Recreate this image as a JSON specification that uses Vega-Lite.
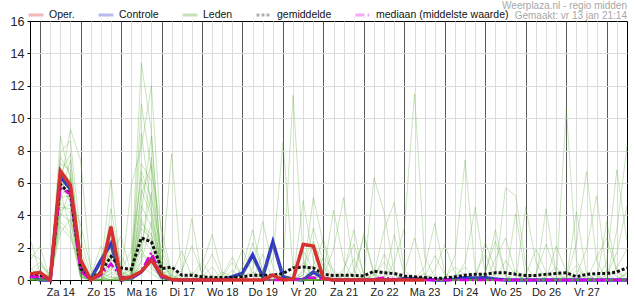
{
"$schema":"https://vega.github.io/schema/vega-lite/v6.json",
"width":635,"height":300,
"autosize":{"type":"fit","contains":"padding"},
"padding":{"left":10,"right":1,"top":0,"bottom":3},
"background":"white",
"title":{"text":["Weerplaza.nl - regio midden","Gemaakt: vr 13 jan 21:14"],"anchor":"end","frame":"group","fontSize":10,"font":"Liberation Sans","fontWeight":"normal","color":"#a8a8a8","lineHeight":10.5,"offset":-6},
"config":{"view":{"stroke":"#000","strokeWidth":1},"font":"Liberation Sans"},
"datasets":{
"det":[
{"s":"o","h":18,"v":0.38},{"s":"o","h":24,"v":0.46},{"s":"o","h":30,"v":0},{"s":"o","h":36,"v":6.74},{"s":"o","h":42,"v":5.85},{"s":"o","h":48,"v":1.24},{"s":"o","h":54,"v":0},{"s":"o","h":60,"v":0.42},{"s":"o","h":66,"v":3.3},{"s":"o","h":72,"v":0.05},
{"s":"o","h":78,"v":0.2},{"s":"o","h":84,"v":0.52},{"s":"o","h":90,"v":1.24},{"s":"o","h":96,"v":0.3},{"s":"o","h":102,"v":0.02},{"s":"o","h":108,"v":0},{"s":"o","h":114,"v":0},{"s":"o","h":120,"v":0},{"s":"o","h":126,"v":0},{"s":"o","h":132,"v":0},
{"s":"o","h":138,"v":0},{"s":"o","h":144,"v":0},{"s":"o","h":150,"v":0},{"s":"o","h":156,"v":0},{"s":"o","h":162,"v":0.3},{"s":"o","h":168,"v":0},{"s":"o","h":174,"v":0.05},{"s":"o","h":180,"v":2.2},{"s":"o","h":186,"v":2.1},{"s":"o","h":192,"v":0.1},
{"s":"o","h":198,"v":0},{"s":"o","h":204,"v":0},{"s":"o","h":210,"v":0},{"s":"o","h":216,"v":0},{"s":"o","h":222,"v":0},{"s":"o","h":228,"v":0},{"s":"o","h":234,"v":0},{"s":"o","h":240,"v":0},{"s":"o","h":246,"v":0},{"s":"o","h":252,"v":0},
{"s":"c","h":18,"v":0.26},{"s":"c","h":24,"v":0},{"s":"c","h":30,"v":0},{"s":"c","h":36,"v":6.4},{"s":"c","h":42,"v":5.6},{"s":"c","h":48,"v":0.8},{"s":"c","h":54,"v":0.05},{"s":"c","h":60,"v":1.2},{"s":"c","h":66,"v":2.25},{"s":"c","h":72,"v":0},
{"s":"c","h":78,"v":0.1},{"s":"c","h":84,"v":0.5},{"s":"c","h":90,"v":1.3},{"s":"c","h":96,"v":0.2},{"s":"c","h":102,"v":0.02},{"s":"c","h":108,"v":0},{"s":"c","h":114,"v":0},{"s":"c","h":120,"v":0},{"s":"c","h":126,"v":0},{"s":"c","h":132,"v":0},
{"s":"c","h":138,"v":0.2},{"s":"c","h":144,"v":0.42},{"s":"c","h":150,"v":1.55},{"s":"c","h":156,"v":0.2},{"s":"c","h":162,"v":2.35},{"s":"c","h":168,"v":0.2},{"s":"c","h":174,"v":0.05},{"s":"c","h":180,"v":0},{"s":"c","h":186,"v":0.5},{"s":"c","h":192,"v":0.1},
{"s":"c","h":198,"v":0},{"s":"c","h":204,"v":0},{"s":"c","h":210,"v":0},{"s":"c","h":216,"v":0},{"s":"c","h":222,"v":0},{"s":"c","h":228,"v":0},{"s":"c","h":234,"v":0},{"s":"c","h":240,"v":0.1},{"s":"c","h":246,"v":0.1},{"s":"c","h":252,"v":0.05},
{"s":"c","h":258,"v":0},{"s":"c","h":264,"v":0},{"s":"c","h":270,"v":0.05},{"s":"c","h":276,"v":0.15},{"s":"c","h":282,"v":0.12},{"s":"c","h":288,"v":0.15},{"s":"c","h":294,"v":0.05},{"s":"c","h":300,"v":0},{"s":"c","h":306,"v":0},{"s":"c","h":312,"v":0},
{"s":"c","h":318,"v":0},{"s":"c","h":324,"v":0},{"s":"c","h":330,"v":0},{"s":"c","h":336,"v":0},{"s":"c","h":342,"v":0},{"s":"c","h":348,"v":0},{"s":"c","h":354,"v":0},{"s":"c","h":360,"v":0},{"s":"c","h":366,"v":0},{"s":"c","h":372,"v":0},
{"s":"g","h":18,"v":0.3},{"s":"g","h":24,"v":0.3},{"s":"g","h":30,"v":0.05},{"s":"g","h":36,"v":5.9},{"s":"g","h":42,"v":5.3},{"s":"g","h":48,"v":0.7},{"s":"g","h":54,"v":0.05},{"s":"g","h":60,"v":0.5},{"s":"g","h":66,"v":1.45},{"s":"g","h":72,"v":0.75},
{"s":"g","h":78,"v":0.65},{"s":"g","h":84,"v":2.6},{"s":"g","h":90,"v":2.35},{"s":"g","h":96,"v":0.7},{"s":"g","h":102,"v":0.8},{"s":"g","h":108,"v":0.3},{"s":"g","h":114,"v":0.3},{"s":"g","h":120,"v":0.2},{"s":"g","h":126,"v":0.15},{"s":"g","h":132,"v":0.15},
{"s":"g","h":138,"v":0.15},{"s":"g","h":144,"v":0.2},{"s":"g","h":150,"v":0.3},{"s":"g","h":156,"v":0.3},{"s":"g","h":162,"v":0.3},{"s":"g","h":168,"v":0.4},{"s":"g","h":174,"v":0.75},{"s":"g","h":180,"v":0.8},{"s":"g","h":186,"v":0.75},{"s":"g","h":192,"v":0.35},
{"s":"g","h":198,"v":0.28},{"s":"g","h":204,"v":0.3},{"s":"g","h":210,"v":0.28},{"s":"g","h":216,"v":0.25},{"s":"g","h":222,"v":0.55},{"s":"g","h":228,"v":0.45},{"s":"g","h":234,"v":0.4},{"s":"g","h":240,"v":0.25},{"s":"g","h":246,"v":0.2},{"s":"g","h":252,"v":0.15},
{"s":"g","h":258,"v":0.1},{"s":"g","h":264,"v":0.12},{"s":"g","h":270,"v":0.2},{"s":"g","h":276,"v":0.3},{"s":"g","h":282,"v":0.35},{"s":"g","h":288,"v":0.35},{"s":"g","h":294,"v":0.45},{"s":"g","h":300,"v":0.45},{"s":"g","h":306,"v":0.35},{"s":"g","h":312,"v":0.28},
{"s":"g","h":318,"v":0.28},{"s":"g","h":324,"v":0.35},{"s":"g","h":330,"v":0.4},{"s":"g","h":336,"v":0.45},{"s":"g","h":342,"v":0.2},{"s":"g","h":348,"v":0.35},{"s":"g","h":354,"v":0.4},{"s":"g","h":360,"v":0.4},{"s":"g","h":366,"v":0.5},{"s":"g","h":372,"v":0.75},
{"s":"d","h":18,"v":0.2},{"s":"d","h":24,"v":0.2},{"s":"d","h":30,"v":0},{"s":"d","h":36,"v":5.7},{"s":"d","h":42,"v":5.3},{"s":"d","h":48,"v":0.55},{"s":"d","h":54,"v":0},{"s":"d","h":60,"v":0.3},{"s":"d","h":66,"v":1.0},{"s":"d","h":72,"v":0.2},
{"s":"d","h":78,"v":0.1},{"s":"d","h":84,"v":0.55},{"s":"d","h":90,"v":1.7},{"s":"d","h":96,"v":0.2},{"s":"d","h":102,"v":0.05},{"s":"d","h":108,"v":0},{"s":"d","h":114,"v":0},{"s":"d","h":120,"v":0},{"s":"d","h":126,"v":0},{"s":"d","h":132,"v":0},
{"s":"d","h":138,"v":0},{"s":"d","h":144,"v":0},{"s":"d","h":150,"v":0},{"s":"d","h":156,"v":0},{"s":"d","h":162,"v":0},{"s":"d","h":168,"v":0},{"s":"d","h":174,"v":0},{"s":"d","h":180,"v":0.1},{"s":"d","h":186,"v":0.15},{"s":"d","h":192,"v":0.05},
{"s":"d","h":198,"v":0},{"s":"d","h":204,"v":0},{"s":"d","h":210,"v":0},{"s":"d","h":216,"v":0},{"s":"d","h":222,"v":0.05},{"s":"d","h":228,"v":0.15},{"s":"d","h":234,"v":0.05},{"s":"d","h":240,"v":0},{"s":"d","h":246,"v":0},{"s":"d","h":252,"v":0},
{"s":"d","h":258,"v":0},{"s":"d","h":264,"v":0},{"s":"d","h":270,"v":0},{"s":"d","h":276,"v":0},{"s":"d","h":282,"v":0},{"s":"d","h":288,"v":0},{"s":"d","h":294,"v":0},{"s":"d","h":300,"v":0},{"s":"d","h":306,"v":0},{"s":"d","h":312,"v":0},
{"s":"d","h":318,"v":0},{"s":"d","h":324,"v":0},{"s":"d","h":330,"v":0},{"s":"d","h":336,"v":0},{"s":"d","h":342,"v":0},{"s":"d","h":348,"v":0},{"s":"d","h":354,"v":0},{"s":"d","h":360,"v":0},{"s":"d","h":366,"v":0},{"s":"d","h":372,"v":0}
],
"ens":[
{"m":1,"h":18,"v":0.3},{"m":1,"h":24,"v":0.5},{"m":1,"h":30,"v":0.1},{"m":1,"h":36,"v":6.8},{"m":1,"h":42,"v":5.5},{"m":1,"h":48,"v":0.8},{"m":1,"h":54,"v":0},{"m":1,"h":60,"v":0.4},{"m":1,"h":66,"v":2.1},{"m":1,"h":72,"v":0.3},
{"m":1,"h":78,"v":0.2},{"m":1,"h":84,"v":3.5},{"m":1,"h":90,"v":2.8},{"m":1,"h":96,"v":0.4},{"m":1,"h":102,"v":0.6},{"m":1,"h":108,"v":0.1},{"m":1,"h":114,"v":0},{"m":1,"h":120,"v":0},{"m":1,"h":126,"v":0.2},{"m":1,"h":132,"v":0},
{"m":1,"h":138,"v":0},{"m":1,"h":144,"v":0.3},{"m":1,"h":150,"v":1.2},{"m":1,"h":156,"v":0.2},{"m":1,"h":162,"v":0},{"m":1,"h":168,"v":0},{"m":1,"h":174,"v":0.4},{"m":1,"h":180,"v":1.8},{"m":1,"h":186,"v":0.6},{"m":1,"h":192,"v":0.1},
{"m":1,"h":198,"v":0},{"m":1,"h":204,"v":0},{"m":1,"h":210,"v":0.5},{"m":1,"h":216,"v":2.7},{"m":1,"h":222,"v":0.3},{"m":1,"h":228,"v":0},{"m":1,"h":234,"v":0},{"m":1,"h":240,"v":0.2},{"m":1,"h":246,"v":0},{"m":1,"h":252,"v":0},
{"m":1,"h":258,"v":0},{"m":1,"h":264,"v":0},{"m":1,"h":270,"v":0.3},{"m":1,"h":276,"v":0.8},{"m":1,"h":282,"v":0},{"m":1,"h":288,"v":0},{"m":1,"h":294,"v":0},{"m":1,"h":300,"v":1.2},{"m":1,"h":306,"v":0.3},{"m":1,"h":312,"v":0},
{"m":1,"h":318,"v":0},{"m":1,"h":324,"v":0},{"m":1,"h":330,"v":0.2},{"m":1,"h":336,"v":0},{"m":1,"h":342,"v":0},{"m":1,"h":348,"v":0},{"m":1,"h":354,"v":1.4},{"m":1,"h":360,"v":2.6},{"m":1,"h":366,"v":0.5},{"m":1,"h":372,"v":0.2},
{"m":2,"h":18,"v":0.1},{"m":2,"h":24,"v":0.2},{"m":2,"h":30,"v":0},{"m":2,"h":36,"v":5.2},{"m":2,"h":42,"v":7.4},{"m":2,"h":48,"v":1.5},{"m":2,"h":54,"v":0.1},{"m":2,"h":60,"v":0},{"m":2,"h":66,"v":0.9},{"m":2,"h":72,"v":0.6},
{"m":2,"h":78,"v":1.8},{"m":2,"h":84,"v":6.3},{"m":2,"h":90,"v":4.2},{"m":2,"h":96,"v":0.8},{"m":2,"h":102,"v":0.2},{"m":2,"h":108,"v":0},{"m":2,"h":114,"v":0.3},{"m":2,"h":120,"v":1.1},{"m":2,"h":126,"v":0.2},{"m":2,"h":132,"v":0},
{"m":2,"h":138,"v":0},{"m":2,"h":144,"v":0},{"m":2,"h":150,"v":0},{"m":2,"h":156,"v":0.5},{"m":2,"h":162,"v":2.1},{"m":2,"h":168,"v":0.3},{"m":2,"h":174,"v":0},{"m":2,"h":180,"v":0},{"m":2,"h":186,"v":0.9},{"m":2,"h":192,"v":2.5},
{"m":2,"h":198,"v":0.4},{"m":2,"h":204,"v":0},{"m":2,"h":210,"v":0},{"m":2,"h":216,"v":0},{"m":2,"h":222,"v":0},{"m":2,"h":228,"v":1.6},{"m":2,"h":234,"v":0.3},{"m":2,"h":240,"v":0},{"m":2,"h":246,"v":0},{"m":2,"h":252,"v":0},
{"m":2,"h":258,"v":0.6},{"m":2,"h":264,"v":2.2},{"m":2,"h":270,"v":0.4},{"m":2,"h":276,"v":0},{"m":2,"h":282,"v":0},{"m":2,"h":288,"v":0},{"m":2,"h":294,"v":0},{"m":2,"h":300,"v":0},{"m":2,"h":306,"v":0},{"m":2,"h":312,"v":0.3},
{"m":2,"h":318,"v":1.9},{"m":2,"h":324,"v":0.5},{"m":2,"h":330,"v":0},{"m":2,"h":336,"v":0},{"m":2,"h":342,"v":0},{"m":2,"h":348,"v":0.4},{"m":2,"h":354,"v":0},{"m":2,"h":360,"v":0},{"m":2,"h":366,"v":0},{"m":2,"h":372,"v":0},
{"m":3,"h":18,"v":0.6},{"m":3,"h":24,"v":1.1},{"m":3,"h":30,"v":0.2},{"m":3,"h":36,"v":4.1},{"m":3,"h":42,"v":3.6},{"m":3,"h":48,"v":0.4},{"m":3,"h":54,"v":0},{"m":3,"h":60,"v":1.2},{"m":3,"h":66,"v":3.4},{"m":3,"h":72,"v":0.2},
{"m":3,"h":78,"v":0},{"m":3,"h":84,"v":1.2},{"m":3,"h":90,"v":7.6},{"m":3,"h":96,"v":1.3},{"m":3,"h":102,"v":0.1},{"m":3,"h":108,"v":0},{"m":3,"h":114,"v":0},{"m":3,"h":120,"v":0},{"m":3,"h":126,"v":0},{"m":3,"h":132,"v":0.3},
{"m":3,"h":138,"v":1.4},{"m":3,"h":144,"v":0.2},{"m":3,"h":150,"v":0},{"m":3,"h":156,"v":0},{"m":3,"h":162,"v":0},{"m":3,"h":168,"v":0},{"m":3,"h":174,"v":0},{"m":3,"h":180,"v":0.5},{"m":3,"h":186,"v":3.2},{"m":3,"h":192,"v":1.1},
{"m":3,"h":198,"v":0},{"m":3,"h":204,"v":0},{"m":3,"h":210,"v":0},{"m":3,"h":216,"v":0},{"m":3,"h":222,"v":0.4},{"m":3,"h":228,"v":3.1},{"m":3,"h":234,"v":4.8},{"m":3,"h":240,"v":0.6},{"m":3,"h":246,"v":0},{"m":3,"h":252,"v":0},
{"m":3,"h":258,"v":0},{"m":3,"h":264,"v":0},{"m":3,"h":270,"v":0},{"m":3,"h":276,"v":0},{"m":3,"h":282,"v":0},{"m":3,"h":288,"v":0.5},{"m":3,"h":294,"v":2.4},{"m":3,"h":300,"v":0.3},{"m":3,"h":306,"v":0},{"m":3,"h":312,"v":0},
{"m":3,"h":318,"v":0},{"m":3,"h":324,"v":0.2},{"m":3,"h":330,"v":0.8},{"m":3,"h":336,"v":0},{"m":3,"h":342,"v":0},{"m":3,"h":348,"v":0},{"m":3,"h":354,"v":0},{"m":3,"h":360,"v":0.3},{"m":3,"h":366,"v":1.7},{"m":3,"h":372,"v":4.6},
{"m":4,"h":18,"v":0},{"m":4,"h":24,"v":0},{"m":4,"h":30,"v":0},{"m":4,"h":36,"v":7.9},{"m":4,"h":42,"v":8.6},{"m":4,"h":48,"v":2.6},{"m":4,"h":54,"v":0.3},{"m":4,"h":60,"v":0},{"m":4,"h":66,"v":0.2},{"m":4,"h":72,"v":0},
{"m":4,"h":78,"v":0.4},{"m":4,"h":84,"v":13.4},{"m":4,"h":90,"v":9.2},{"m":4,"h":96,"v":0.5},{"m":4,"h":102,"v":0},{"m":4,"h":108,"v":0},{"m":4,"h":114,"v":0},{"m":4,"h":120,"v":0.4},{"m":4,"h":126,"v":1.6},{"m":4,"h":132,"v":0.2},
{"m":4,"h":138,"v":0},{"m":4,"h":144,"v":0},{"m":4,"h":150,"v":0},{"m":4,"h":156,"v":0},{"m":4,"h":162,"v":0},{"m":4,"h":168,"v":0.6},{"m":4,"h":174,"v":11.4},{"m":4,"h":180,"v":1.3},{"m":4,"h":186,"v":0},{"m":4,"h":192,"v":0},
{"m":4,"h":198,"v":0},{"m":4,"h":204,"v":0.7},{"m":4,"h":210,"v":2.2},{"m":4,"h":216,"v":0.4},{"m":4,"h":222,"v":0},{"m":4,"h":228,"v":0},{"m":4,"h":234,"v":0},{"m":4,"h":240,"v":0},{"m":4,"h":246,"v":0},{"m":4,"h":252,"v":0},
{"m":4,"h":258,"v":0},{"m":4,"h":264,"v":0},{"m":4,"h":270,"v":0},{"m":4,"h":276,"v":1.1},{"m":4,"h":282,"v":4.5},{"m":4,"h":288,"v":0.3},{"m":4,"h":294,"v":0},{"m":4,"h":300,"v":0},{"m":4,"h":306,"v":0},{"m":4,"h":312,"v":0},
{"m":4,"h":318,"v":0},{"m":4,"h":324,"v":0},{"m":4,"h":330,"v":0},{"m":4,"h":336,"v":0},{"m":4,"h":342,"v":0.6},{"m":4,"h":348,"v":0.2},{"m":4,"h":354,"v":0},{"m":4,"h":360,"v":0},{"m":4,"h":366,"v":0},{"m":4,"h":372,"v":0},
{"m":5,"h":18,"v":2.6},{"m":5,"h":24,"v":0.4},{"m":5,"h":30,"v":0},{"m":5,"h":36,"v":6.1},{"m":5,"h":42,"v":4.9},{"m":5,"h":48,"v":0.2},{"m":5,"h":54,"v":0},{"m":5,"h":60,"v":0.3},{"m":5,"h":66,"v":0.6},{"m":5,"h":72,"v":1.5},
{"m":5,"h":78,"v":0.3},{"m":5,"h":84,"v":0.8},{"m":5,"h":90,"v":0.4},{"m":5,"h":96,"v":0},{"m":5,"h":102,"v":0},{"m":5,"h":108,"v":0.6},{"m":5,"h":114,"v":2.1},{"m":5,"h":120,"v":0.4},{"m":5,"h":126,"v":0},{"m":5,"h":132,"v":0},
{"m":5,"h":138,"v":0},{"m":5,"h":144,"v":0},{"m":5,"h":150,"v":0.7},{"m":5,"h":156,"v":3.6},{"m":5,"h":162,"v":0.8},{"m":5,"h":168,"v":0},{"m":5,"h":174,"v":0},{"m":5,"h":180,"v":0},{"m":5,"h":186,"v":0},{"m":5,"h":192,"v":0.3},
{"m":5,"h":198,"v":1.9},{"m":5,"h":204,"v":5.1},{"m":5,"h":210,"v":0.6},{"m":5,"h":216,"v":0},{"m":5,"h":222,"v":0},{"m":5,"h":228,"v":0},{"m":5,"h":234,"v":0},{"m":5,"h":240,"v":0},{"m":5,"h":246,"v":0},{"m":5,"h":252,"v":0},
{"m":5,"h":258,"v":0},{"m":5,"h":264,"v":0},{"m":5,"h":270,"v":0},{"m":5,"h":276,"v":0},{"m":5,"h":282,"v":0},{"m":5,"h":288,"v":0},{"m":5,"h":294,"v":0.4},{"m":5,"h":300,"v":5.7},{"m":5,"h":306,"v":5.2},{"m":5,"h":312,"v":0.9},
{"m":5,"h":318,"v":0},{"m":5,"h":324,"v":0},{"m":5,"h":330,"v":0},{"m":5,"h":336,"v":0},{"m":5,"h":342,"v":0},{"m":5,"h":348,"v":0},{"m":5,"h":354,"v":0},{"m":5,"h":360,"v":0.6},{"m":5,"h":366,"v":0.2},{"m":5,"h":372,"v":0},
{"m":6,"h":18,"v":0.2},{"m":6,"h":24,"v":0.1},{"m":6,"h":30,"v":0},{"m":6,"h":36,"v":8.9},{"m":6,"h":42,"v":6.2},{"m":6,"h":48,"v":0.5},{"m":6,"h":54,"v":0},{"m":6,"h":60,"v":0},{"m":6,"h":66,"v":4.4},{"m":6,"h":72,"v":0.8},
{"m":6,"h":78,"v":0},{"m":6,"h":84,"v":2.1},{"m":6,"h":90,"v":5.4},{"m":6,"h":96,"v":0.2},{"m":6,"h":102,"v":0},{"m":6,"h":108,"v":0},{"m":6,"h":114,"v":0},{"m":6,"h":120,"v":0},{"m":6,"h":126,"v":0},{"m":6,"h":132,"v":0},
{"m":6,"h":138,"v":0.3},{"m":6,"h":144,"v":1.9},{"m":6,"h":150,"v":0.4},{"m":6,"h":156,"v":0},{"m":6,"h":162,"v":0},{"m":6,"h":168,"v":0},{"m":6,"h":174,"v":0},{"m":6,"h":180,"v":0},{"m":6,"h":186,"v":0.5},{"m":6,"h":192,"v":0.2},
{"m":6,"h":198,"v":0},{"m":6,"h":204,"v":0},{"m":6,"h":210,"v":0},{"m":6,"h":216,"v":0.3},{"m":6,"h":222,"v":6.3},{"m":6,"h":228,"v":4.2},{"m":6,"h":234,"v":0.5},{"m":6,"h":240,"v":0},{"m":6,"h":246,"v":0},{"m":6,"h":252,"v":0},
{"m":6,"h":258,"v":0},{"m":6,"h":264,"v":0},{"m":6,"h":270,"v":0},{"m":6,"h":276,"v":0},{"m":6,"h":282,"v":0},{"m":6,"h":288,"v":0},{"m":6,"h":294,"v":0},{"m":6,"h":300,"v":0},{"m":6,"h":306,"v":0.6},{"m":6,"h":312,"v":0.2},
{"m":6,"h":318,"v":0},{"m":6,"h":324,"v":0},{"m":6,"h":330,"v":0},{"m":6,"h":336,"v":10.6},{"m":6,"h":342,"v":1.2},{"m":6,"h":348,"v":0},{"m":6,"h":354,"v":0},{"m":6,"h":360,"v":0},{"m":6,"h":366,"v":0},{"m":6,"h":372,"v":0.4},
{"m":7,"h":18,"v":0.4},{"m":7,"h":24,"v":0.6},{"m":7,"h":30,"v":0.1},{"m":7,"h":36,"v":3.3},{"m":7,"h":42,"v":2.6},{"m":7,"h":48,"v":0.9},{"m":7,"h":54,"v":0.2},{"m":7,"h":60,"v":2.1},{"m":7,"h":66,"v":1.1},{"m":7,"h":72,"v":0},
{"m":7,"h":78,"v":0},{"m":7,"h":84,"v":10.9},{"m":7,"h":90,"v":6.8},{"m":7,"h":96,"v":3.1},{"m":7,"h":102,"v":0.4},{"m":7,"h":108,"v":0},{"m":7,"h":114,"v":0},{"m":7,"h":120,"v":0},{"m":7,"h":126,"v":0},{"m":7,"h":132,"v":0.5},
{"m":7,"h":138,"v":0.2},{"m":7,"h":144,"v":0},{"m":7,"h":150,"v":0},{"m":7,"h":156,"v":0},{"m":7,"h":162,"v":0.3},{"m":7,"h":168,"v":0},{"m":7,"h":174,"v":0},{"m":7,"h":180,"v":0},{"m":7,"h":186,"v":0},{"m":7,"h":192,"v":0},
{"m":7,"h":198,"v":0},{"m":7,"h":204,"v":0.3},{"m":7,"h":210,"v":0},{"m":7,"h":216,"v":0},{"m":7,"h":222,"v":0},{"m":7,"h":228,"v":0},{"m":7,"h":234,"v":1.1},{"m":7,"h":240,"v":3.2},{"m":7,"h":246,"v":11.5},{"m":7,"h":252,"v":1.4},
{"m":7,"h":258,"v":0.2},{"m":7,"h":264,"v":0},{"m":7,"h":270,"v":0},{"m":7,"h":276,"v":0},{"m":7,"h":282,"v":0},{"m":7,"h":288,"v":0},{"m":7,"h":294,"v":0},{"m":7,"h":300,"v":0},{"m":7,"h":306,"v":0},{"m":7,"h":312,"v":0},
{"m":7,"h":318,"v":0.4},{"m":7,"h":324,"v":2.2},{"m":7,"h":330,"v":0.5},{"m":7,"h":336,"v":0},{"m":7,"h":342,"v":0},{"m":7,"h":348,"v":0},{"m":7,"h":354,"v":0},{"m":7,"h":360,"v":0},{"m":7,"h":366,"v":3.1},{"m":7,"h":372,"v":8.3},
{"m":8,"h":18,"v":0},{"m":8,"h":24,"v":0.3},{"m":8,"h":30,"v":0.3},{"m":8,"h":36,"v":5.8},{"m":8,"h":42,"v":9.3},{"m":8,"h":48,"v":7.4},{"m":8,"h":54,"v":0.6},{"m":8,"h":60,"v":0},{"m":8,"h":66,"v":0},{"m":8,"h":72,"v":0},
{"m":8,"h":78,"v":0.2},{"m":8,"h":84,"v":4.6},{"m":8,"h":90,"v":3.3},{"m":8,"h":96,"v":0.6},{"m":8,"h":102,"v":7.8},{"m":8,"h":108,"v":0.3},{"m":8,"h":114,"v":0},{"m":8,"h":120,"v":0},{"m":8,"h":126,"v":0},{"m":8,"h":132,"v":0},
{"m":8,"h":138,"v":0},{"m":8,"h":144,"v":0},{"m":8,"h":150,"v":0},{"m":8,"h":156,"v":0},{"m":8,"h":162,"v":0},{"m":8,"h":168,"v":0},{"m":8,"h":174,"v":0.2},{"m":8,"h":180,"v":1.1},{"m":8,"h":186,"v":0},{"m":8,"h":192,"v":0},
{"m":8,"h":198,"v":0},{"m":8,"h":204,"v":0},{"m":8,"h":210,"v":0},{"m":8,"h":216,"v":0},{"m":8,"h":222,"v":0},{"m":8,"h":228,"v":0.5},{"m":8,"h":234,"v":0},{"m":8,"h":240,"v":0},{"m":8,"h":246,"v":0},{"m":8,"h":252,"v":0.8},
{"m":8,"h":258,"v":3.5},{"m":8,"h":264,"v":0.4},{"m":8,"h":270,"v":0},{"m":8,"h":276,"v":0},{"m":8,"h":282,"v":0},{"m":8,"h":288,"v":0},{"m":8,"h":294,"v":0},{"m":8,"h":300,"v":0},{"m":8,"h":306,"v":0},{"m":8,"h":312,"v":0},
{"m":8,"h":318,"v":0},{"m":8,"h":324,"v":0},{"m":8,"h":330,"v":0},{"m":8,"h":336,"v":0},{"m":8,"h":342,"v":2.3},{"m":8,"h":348,"v":6.7},{"m":8,"h":354,"v":1.2},{"m":8,"h":360,"v":0},{"m":8,"h":366,"v":0},{"m":8,"h":372,"v":0},
{"m":9,"h":18,"v":1.2},{"m":9,"h":24,"v":2.1},{"m":9,"h":30,"v":0},{"m":9,"h":36,"v":4.8},{"m":9,"h":42,"v":4.1},{"m":9,"h":48,"v":0.3},{"m":9,"h":54,"v":0},{"m":9,"h":60,"v":0.6},{"m":9,"h":66,"v":6.2},{"m":9,"h":72,"v":0.4},
{"m":9,"h":78,"v":0},{"m":9,"h":84,"v":1.6},{"m":9,"h":90,"v":0.9},{"m":9,"h":96,"v":0},{"m":9,"h":102,"v":0},{"m":9,"h":108,"v":0},{"m":9,"h":114,"v":0.5},{"m":9,"h":120,"v":0},{"m":9,"h":126,"v":0},{"m":9,"h":132,"v":0},
{"m":9,"h":138,"v":0},{"m":9,"h":144,"v":0},{"m":9,"h":150,"v":2.3},{"m":9,"h":156,"v":0.6},{"m":9,"h":162,"v":0},{"m":9,"h":168,"v":0},{"m":9,"h":174,"v":0},{"m":9,"h":180,"v":0},{"m":9,"h":186,"v":0},{"m":9,"h":192,"v":0.4},
{"m":9,"h":198,"v":4.3},{"m":9,"h":204,"v":1.2},{"m":9,"h":210,"v":0},{"m":9,"h":216,"v":0},{"m":9,"h":222,"v":0},{"m":9,"h":228,"v":0},{"m":9,"h":234,"v":0},{"m":9,"h":240,"v":0},{"m":9,"h":246,"v":0},{"m":9,"h":252,"v":0},
{"m":9,"h":258,"v":0},{"m":9,"h":264,"v":0},{"m":9,"h":270,"v":1.5},{"m":9,"h":276,"v":7.4},{"m":9,"h":282,"v":0.6},{"m":9,"h":288,"v":0},{"m":9,"h":294,"v":0},{"m":9,"h":300,"v":0},{"m":9,"h":306,"v":0},{"m":9,"h":312,"v":0},
{"m":9,"h":318,"v":0},{"m":9,"h":324,"v":0},{"m":9,"h":330,"v":0},{"m":9,"h":336,"v":0},{"m":9,"h":342,"v":0.3},{"m":9,"h":348,"v":1.9},{"m":9,"h":354,"v":5.2},{"m":9,"h":360,"v":0.4},{"m":9,"h":366,"v":0},{"m":9,"h":372,"v":0},
{"m":10,"h":18,"v":0},{"m":10,"h":24,"v":0},{"m":10,"h":30,"v":0},{"m":10,"h":36,"v":6.4},{"m":10,"h":42,"v":5.9},{"m":10,"h":48,"v":1.1},{"m":10,"h":54,"v":0},{"m":10,"h":60,"v":0},{"m":10,"h":66,"v":0.4},{"m":10,"h":72,"v":0},
{"m":10,"h":78,"v":5.8},{"m":10,"h":84,"v":8.2},{"m":10,"h":90,"v":12.0},{"m":10,"h":96,"v":2.4},{"m":10,"h":102,"v":0.2},{"m":10,"h":108,"v":0},{"m":10,"h":114,"v":0},{"m":10,"h":120,"v":0},{"m":10,"h":126,"v":0},{"m":10,"h":132,"v":0},
{"m":10,"h":138,"v":0},{"m":10,"h":144,"v":0},{"m":10,"h":150,"v":0},{"m":10,"h":156,"v":0.4},{"m":10,"h":162,"v":1.3},{"m":10,"h":168,"v":8.5},{"m":10,"h":174,"v":0.6},{"m":10,"h":180,"v":0},{"m":10,"h":186,"v":0},{"m":10,"h":192,"v":0},
{"m":10,"h":198,"v":0},{"m":10,"h":204,"v":0},{"m":10,"h":210,"v":0},{"m":10,"h":216,"v":0},{"m":10,"h":222,"v":0},{"m":10,"h":228,"v":0},{"m":10,"h":234,"v":0},{"m":10,"h":240,"v":0.5},{"m":10,"h":246,"v":2.6},{"m":10,"h":252,"v":0.3},
{"m":10,"h":258,"v":0},{"m":10,"h":264,"v":0},{"m":10,"h":270,"v":0},{"m":10,"h":276,"v":0},{"m":10,"h":282,"v":0},{"m":10,"h":288,"v":0.4},{"m":10,"h":294,"v":3.1},{"m":10,"h":300,"v":0.2},{"m":10,"h":306,"v":0},{"m":10,"h":312,"v":0},
{"m":10,"h":318,"v":0},{"m":10,"h":324,"v":0},{"m":10,"h":330,"v":0},{"m":10,"h":336,"v":0},{"m":10,"h":342,"v":0},{"m":10,"h":348,"v":0},{"m":10,"h":354,"v":0},{"m":10,"h":360,"v":1.1},{"m":10,"h":366,"v":6.8},{"m":10,"h":372,"v":2.4},
{"m":11,"h":18,"v":0.8},{"m":11,"h":24,"v":0.2},{"m":11,"h":30,"v":0},{"m":11,"h":36,"v":2.9},{"m":11,"h":42,"v":3.8},{"m":11,"h":48,"v":0.6},{"m":11,"h":54,"v":0.1},{"m":11,"h":60,"v":0.2},{"m":11,"h":66,"v":0},{"m":11,"h":72,"v":0.3},
{"m":11,"h":78,"v":0.6},{"m":11,"h":84,"v":2.7},{"m":11,"h":90,"v":1.8},{"m":11,"h":96,"v":0.3},{"m":11,"h":102,"v":0},{"m":11,"h":108,"v":0.4},{"m":11,"h":114,"v":3.8},{"m":11,"h":120,"v":0.2},{"m":11,"h":126,"v":0},{"m":11,"h":132,"v":0},
{"m":11,"h":138,"v":0},{"m":11,"h":144,"v":0},{"m":11,"h":150,"v":0},{"m":11,"h":156,"v":0},{"m":11,"h":162,"v":0},{"m":11,"h":168,"v":0},{"m":11,"h":174,"v":0},{"m":11,"h":180,"v":0.3},{"m":11,"h":186,"v":5.1},{"m":11,"h":192,"v":2.2},
{"m":11,"h":198,"v":0},{"m":11,"h":204,"v":0},{"m":11,"h":210,"v":0},{"m":11,"h":216,"v":0},{"m":11,"h":222,"v":0},{"m":11,"h":228,"v":0},{"m":11,"h":234,"v":0},{"m":11,"h":240,"v":0},{"m":11,"h":246,"v":0},{"m":11,"h":252,"v":0},
{"m":11,"h":258,"v":0},{"m":11,"h":264,"v":0.2},{"m":11,"h":270,"v":0.8},{"m":11,"h":276,"v":0.3},{"m":11,"h":282,"v":0},{"m":11,"h":288,"v":0},{"m":11,"h":294,"v":0},{"m":11,"h":300,"v":0},{"m":11,"h":306,"v":4.1},{"m":11,"h":312,"v":0.2},
{"m":11,"h":318,"v":0},{"m":11,"h":324,"v":0},{"m":11,"h":330,"v":0},{"m":11,"h":336,"v":0},{"m":11,"h":342,"v":0},{"m":11,"h":348,"v":0},{"m":11,"h":354,"v":0.3},{"m":11,"h":360,"v":0},{"m":11,"h":366,"v":0},{"m":11,"h":372,"v":0.5},
{"m":12,"h":18,"v":0.3},{"m":12,"h":24,"v":0.4},{"m":12,"h":30,"v":0},{"m":12,"h":36,"v":7.2},{"m":12,"h":42,"v":6.8},{"m":12,"h":48,"v":0.2},{"m":12,"h":54,"v":0},{"m":12,"h":60,"v":0},{"m":12,"h":66,"v":1.6},{"m":12,"h":72,"v":2.7},
{"m":12,"h":78,"v":0.4},{"m":12,"h":84,"v":9.1},{"m":12,"h":90,"v":4.4},{"m":12,"h":96,"v":0.5},{"m":12,"h":102,"v":0},{"m":12,"h":108,"v":0},{"m":12,"h":114,"v":0},{"m":12,"h":120,"v":0},{"m":12,"h":126,"v":0},{"m":12,"h":132,"v":0},
{"m":12,"h":138,"v":0},{"m":12,"h":144,"v":0.8},{"m":12,"h":150,"v":3.1},{"m":12,"h":156,"v":0.5},{"m":12,"h":162,"v":0},{"m":12,"h":168,"v":0},{"m":12,"h":174,"v":0},{"m":12,"h":180,"v":0},{"m":12,"h":186,"v":0},{"m":12,"h":192,"v":0},
{"m":12,"h":198,"v":0},{"m":12,"h":204,"v":0},{"m":12,"h":210,"v":0},{"m":12,"h":216,"v":2.9},{"m":12,"h":222,"v":0.4},{"m":12,"h":228,"v":0},{"m":12,"h":234,"v":0},{"m":12,"h":240,"v":0},{"m":12,"h":246,"v":0},{"m":12,"h":252,"v":0},
{"m":12,"h":258,"v":0},{"m":12,"h":264,"v":0},{"m":12,"h":270,"v":0},{"m":12,"h":276,"v":0},{"m":12,"h":282,"v":0},{"m":12,"h":288,"v":2.3},{"m":12,"h":294,"v":0.6},{"m":12,"h":300,"v":0},{"m":12,"h":306,"v":0},{"m":12,"h":312,"v":0},
{"m":12,"h":318,"v":0},{"m":12,"h":324,"v":4.4},{"m":12,"h":330,"v":0.4},{"m":12,"h":336,"v":0},{"m":12,"h":342,"v":0},{"m":12,"h":348,"v":0},{"m":12,"h":354,"v":0},{"m":12,"h":360,"v":0},{"m":12,"h":366,"v":0.8},{"m":12,"h":372,"v":1.9},
{"m":13,"h":18,"v":0},{"m":13,"h":24,"v":0},{"m":13,"h":30,"v":0},{"m":13,"h":36,"v":5.1},{"m":13,"h":42,"v":5.2},{"m":13,"h":48,"v":3.4},{"m":13,"h":54,"v":0.8},{"m":13,"h":60,"v":0},{"m":13,"h":66,"v":0},{"m":13,"h":72,"v":0},
{"m":13,"h":78,"v":0},{"m":13,"h":84,"v":5.3},{"m":13,"h":90,"v":7.1},{"m":13,"h":96,"v":0.2},{"m":13,"h":102,"v":0},{"m":13,"h":108,"v":0},{"m":13,"h":114,"v":0},{"m":13,"h":120,"v":0.9},{"m":13,"h":126,"v":2.8},{"m":13,"h":132,"v":0.4},
{"m":13,"h":138,"v":0},{"m":13,"h":144,"v":0},{"m":13,"h":150,"v":0},{"m":13,"h":156,"v":0},{"m":13,"h":162,"v":0},{"m":13,"h":168,"v":0},{"m":13,"h":174,"v":0},{"m":13,"h":180,"v":0.6},{"m":13,"h":186,"v":0},{"m":13,"h":192,"v":0},
{"m":13,"h":198,"v":0},{"m":13,"h":204,"v":0},{"m":13,"h":210,"v":1.3},{"m":13,"h":216,"v":0},{"m":13,"h":222,"v":0},{"m":13,"h":228,"v":0},{"m":13,"h":234,"v":0},{"m":13,"h":240,"v":0},{"m":13,"h":246,"v":0},{"m":13,"h":252,"v":0},
{"m":13,"h":258,"v":0},{"m":13,"h":264,"v":0},{"m":13,"h":270,"v":0},{"m":13,"h":276,"v":0},{"m":13,"h":282,"v":0},{"m":13,"h":288,"v":0},{"m":13,"h":294,"v":0},{"m":13,"h":300,"v":0},{"m":13,"h":306,"v":0},{"m":13,"h":312,"v":4.5},
{"m":13,"h":318,"v":1.1},{"m":13,"h":324,"v":0},{"m":13,"h":330,"v":0},{"m":13,"h":336,"v":0},{"m":13,"h":342,"v":0},{"m":13,"h":348,"v":0},{"m":13,"h":354,"v":0},{"m":13,"h":360,"v":0},{"m":13,"h":366,"v":0},{"m":13,"h":372,"v":0},
{"m":14,"h":18,"v":0.5},{"m":14,"h":24,"v":0.2},{"m":14,"h":30,"v":0},{"m":14,"h":36,"v":4.5},{"m":14,"h":42,"v":4.4},{"m":14,"h":48,"v":0.4},{"m":14,"h":54,"v":0},{"m":14,"h":60,"v":0.9},{"m":14,"h":66,"v":2.6},{"m":14,"h":72,"v":0},
{"m":14,"h":78,"v":0},{"m":14,"h":84,"v":3.8},{"m":14,"h":90,"v":2.2},{"m":14,"h":96,"v":0.2},{"m":14,"h":102,"v":0.3},{"m":14,"h":108,"v":1.8},{"m":14,"h":114,"v":0.2},{"m":14,"h":120,"v":0},{"m":14,"h":126,"v":0},{"m":14,"h":132,"v":0},
{"m":14,"h":138,"v":0},{"m":14,"h":144,"v":0},{"m":14,"h":150,"v":0},{"m":14,"h":156,"v":0},{"m":14,"h":162,"v":0},{"m":14,"h":168,"v":0},{"m":14,"h":174,"v":0},{"m":14,"h":180,"v":4.9},{"m":14,"h":186,"v":1.2},{"m":14,"h":192,"v":0},
{"m":14,"h":198,"v":0},{"m":14,"h":204,"v":0},{"m":14,"h":210,"v":0},{"m":14,"h":216,"v":0},{"m":14,"h":222,"v":0},{"m":14,"h":228,"v":0},{"m":14,"h":234,"v":0},{"m":14,"h":240,"v":0},{"m":14,"h":246,"v":0},{"m":14,"h":252,"v":0},
{"m":14,"h":258,"v":0},{"m":14,"h":264,"v":0},{"m":14,"h":270,"v":0},{"m":14,"h":276,"v":0},{"m":14,"h":282,"v":0.4},{"m":14,"h":288,"v":1.6},{"m":14,"h":294,"v":0},{"m":14,"h":300,"v":0},{"m":14,"h":306,"v":0},{"m":14,"h":312,"v":0},
{"m":14,"h":318,"v":0},{"m":14,"h":324,"v":0},{"m":14,"h":330,"v":0},{"m":14,"h":336,"v":0},{"m":14,"h":342,"v":0},{"m":14,"h":348,"v":0},{"m":14,"h":354,"v":0},{"m":14,"h":360,"v":0},{"m":14,"h":366,"v":0},{"m":14,"h":372,"v":0},
{"m":15,"h":18,"v":0.2},{"m":15,"h":24,"v":0.9},{"m":15,"h":30,"v":0.4},{"m":15,"h":36,"v":6.6},{"m":15,"h":42,"v":7.8},{"m":15,"h":48,"v":0.9},{"m":15,"h":54,"v":0},{"m":15,"h":60,"v":0.2},{"m":15,"h":66,"v":0},{"m":15,"h":72,"v":0.1},
{"m":15,"h":78,"v":0.3},{"m":15,"h":84,"v":6.7},{"m":15,"h":90,"v":5.0},{"m":15,"h":96,"v":1.8},{"m":15,"h":102,"v":0},{"m":15,"h":108,"v":0},{"m":15,"h":114,"v":0},{"m":15,"h":120,"v":0},{"m":15,"h":126,"v":0},{"m":15,"h":132,"v":0},
{"m":15,"h":138,"v":0.6},{"m":15,"h":144,"v":0},{"m":15,"h":150,"v":0},{"m":15,"h":156,"v":0},{"m":15,"h":162,"v":0},{"m":15,"h":168,"v":0},{"m":15,"h":174,"v":0},{"m":15,"h":180,"v":0},{"m":15,"h":186,"v":0},{"m":15,"h":192,"v":1.4},
{"m":15,"h":198,"v":0.6},{"m":15,"h":204,"v":0},{"m":15,"h":210,"v":0},{"m":15,"h":216,"v":0},{"m":15,"h":222,"v":0},{"m":15,"h":228,"v":0},{"m":15,"h":234,"v":2.8},{"m":15,"h":240,"v":0.3},{"m":15,"h":246,"v":0},{"m":15,"h":252,"v":0},
{"m":15,"h":258,"v":0},{"m":15,"h":264,"v":0},{"m":15,"h":270,"v":0},{"m":15,"h":276,"v":0},{"m":15,"h":282,"v":0},{"m":15,"h":288,"v":0},{"m":15,"h":294,"v":0},{"m":15,"h":300,"v":0},{"m":15,"h":306,"v":0},{"m":15,"h":312,"v":0},
{"m":15,"h":318,"v":0},{"m":15,"h":324,"v":0},{"m":15,"h":330,"v":0},{"m":15,"h":336,"v":0},{"m":15,"h":342,"v":0},{"m":15,"h":348,"v":0},{"m":15,"h":354,"v":0},{"m":15,"h":360,"v":3.6},{"m":15,"h":366,"v":0.5},{"m":15,"h":372,"v":0},
{"m":16,"h":18,"v":0},{"m":16,"h":24,"v":0},{"m":16,"h":30,"v":0},{"m":16,"h":36,"v":5.5},{"m":16,"h":42,"v":3.1},{"m":16,"h":48,"v":0.2},{"m":16,"h":54,"v":0},{"m":16,"h":60,"v":0},{"m":16,"h":66,"v":1.3},{"m":16,"h":72,"v":0.6},
{"m":16,"h":78,"v":0},{"m":16,"h":84,"v":0.6},{"m":16,"h":90,"v":1.4},{"m":16,"h":96,"v":0.6},{"m":16,"h":102,"v":0.1},{"m":16,"h":108,"v":0},{"m":16,"h":114,"v":0},{"m":16,"h":120,"v":0},{"m":16,"h":126,"v":0},{"m":16,"h":132,"v":0},
{"m":16,"h":138,"v":0},{"m":16,"h":144,"v":0},{"m":16,"h":150,"v":0},{"m":16,"h":156,"v":1.6},{"m":16,"h":162,"v":0},{"m":16,"h":168,"v":0},{"m":16,"h":174,"v":0},{"m":16,"h":180,"v":0},{"m":16,"h":186,"v":0},{"m":16,"h":192,"v":0},
{"m":16,"h":198,"v":0},{"m":16,"h":204,"v":0},{"m":16,"h":210,"v":0},{"m":16,"h":216,"v":0},{"m":16,"h":222,"v":0.3},{"m":16,"h":228,"v":1.1},{"m":16,"h":234,"v":0},{"m":16,"h":240,"v":0},{"m":16,"h":246,"v":0},{"m":16,"h":252,"v":0},
{"m":16,"h":258,"v":0},{"m":16,"h":264,"v":0},{"m":16,"h":270,"v":0},{"m":16,"h":276,"v":0},{"m":16,"h":282,"v":0},{"m":16,"h":288,"v":0},{"m":16,"h":294,"v":0},{"m":16,"h":300,"v":0},{"m":16,"h":306,"v":0},{"m":16,"h":312,"v":0},
{"m":16,"h":318,"v":0},{"m":16,"h":324,"v":0},{"m":16,"h":330,"v":0},{"m":16,"h":336,"v":0.2},{"m":16,"h":342,"v":0.9},{"m":16,"h":348,"v":0},{"m":16,"h":354,"v":0},{"m":16,"h":360,"v":0},{"m":16,"h":366,"v":0},{"m":16,"h":372,"v":0},
{"m":17,"h":18,"v":1.6},{"m":17,"h":24,"v":1.3},{"m":17,"h":30,"v":0},{"m":17,"h":36,"v":3.9},{"m":17,"h":42,"v":5.6},{"m":17,"h":48,"v":0.7},{"m":17,"h":54,"v":0},{"m":17,"h":60,"v":0.4},{"m":17,"h":66,"v":0.2},{"m":17,"h":72,"v":0},
{"m":17,"h":78,"v":0},{"m":17,"h":84,"v":4.1},{"m":17,"h":90,"v":8.9},{"m":17,"h":96,"v":0.6},{"m":17,"h":102,"v":0},{"m":17,"h":108,"v":0},{"m":17,"h":114,"v":0},{"m":17,"h":120,"v":0},{"m":17,"h":126,"v":0.3},{"m":17,"h":132,"v":0},
{"m":17,"h":138,"v":0},{"m":17,"h":144,"v":0},{"m":17,"h":150,"v":0},{"m":17,"h":156,"v":0},{"m":17,"h":162,"v":0},{"m":17,"h":168,"v":0},{"m":17,"h":174,"v":0},{"m":17,"h":180,"v":0},{"m":17,"h":186,"v":0},{"m":17,"h":192,"v":0},
{"m":17,"h":198,"v":0},{"m":17,"h":204,"v":0},{"m":17,"h":210,"v":0},{"m":17,"h":216,"v":0},{"m":17,"h":222,"v":0},{"m":17,"h":228,"v":0},{"m":17,"h":234,"v":0},{"m":17,"h":240,"v":0},{"m":17,"h":246,"v":0},{"m":17,"h":252,"v":0.4},
{"m":17,"h":258,"v":0},{"m":17,"h":264,"v":0},{"m":17,"h":270,"v":0},{"m":17,"h":276,"v":0},{"m":17,"h":282,"v":0},{"m":17,"h":288,"v":0},{"m":17,"h":294,"v":0},{"m":17,"h":300,"v":0},{"m":17,"h":306,"v":0},{"m":17,"h":312,"v":0},
{"m":17,"h":318,"v":0},{"m":17,"h":324,"v":0},{"m":17,"h":330,"v":0},{"m":17,"h":336,"v":0},{"m":17,"h":342,"v":0},{"m":17,"h":348,"v":0},{"m":17,"h":354,"v":0},{"m":17,"h":360,"v":0},{"m":17,"h":366,"v":0},{"m":17,"h":372,"v":0},
{"m":18,"h":18,"v":0.1},{"m":18,"h":24,"v":0},{"m":18,"h":30,"v":0},{"m":18,"h":36,"v":7.6},{"m":18,"h":42,"v":6.5},{"m":18,"h":48,"v":0.3},{"m":18,"h":54,"v":0},{"m":18,"h":60,"v":0},{"m":18,"h":66,"v":0.8},{"m":18,"h":72,"v":0},
{"m":18,"h":78,"v":0.5},{"m":18,"h":84,"v":7.2},{"m":18,"h":90,"v":6.1},{"m":18,"h":96,"v":0.9},{"m":18,"h":102,"v":0.3},{"m":18,"h":108,"v":0},{"m":18,"h":114,"v":0},{"m":18,"h":120,"v":0},{"m":18,"h":126,"v":0},{"m":18,"h":132,"v":0.2},
{"m":18,"h":138,"v":1.1},{"m":18,"h":144,"v":0.2},{"m":18,"h":150,"v":0},{"m":18,"h":156,"v":0},{"m":18,"h":162,"v":0},{"m":18,"h":168,"v":0},{"m":18,"h":174,"v":0},{"m":18,"h":180,"v":0},{"m":18,"h":186,"v":0},{"m":18,"h":192,"v":0},
{"m":18,"h":198,"v":0},{"m":18,"h":204,"v":0},{"m":18,"h":210,"v":0},{"m":18,"h":216,"v":0},{"m":18,"h":222,"v":0},{"m":18,"h":228,"v":0},{"m":18,"h":234,"v":0},{"m":18,"h":240,"v":0},{"m":18,"h":246,"v":0},{"m":18,"h":252,"v":0},
{"m":18,"h":258,"v":0},{"m":18,"h":264,"v":0},{"m":18,"h":270,"v":0},{"m":18,"h":276,"v":0},{"m":18,"h":282,"v":0},{"m":18,"h":288,"v":0},{"m":18,"h":294,"v":0},{"m":18,"h":300,"v":0},{"m":18,"h":306,"v":0},{"m":18,"h":312,"v":0},
{"m":18,"h":318,"v":0},{"m":18,"h":324,"v":0},{"m":18,"h":330,"v":0},{"m":18,"h":336,"v":0},{"m":18,"h":342,"v":0},{"m":18,"h":348,"v":0},{"m":18,"h":354,"v":0},{"m":18,"h":360,"v":0},{"m":18,"h":366,"v":0},{"m":18,"h":372,"v":0},
{"m":19,"h":18,"v":0.4},{"m":19,"h":24,"v":0.3},{"m":19,"h":30,"v":0},{"m":19,"h":36,"v":4.3},{"m":19,"h":42,"v":4.7},{"m":19,"h":48,"v":1.8},{"m":19,"h":54,"v":0.2},{"m":19,"h":60,"v":0},{"m":19,"h":66,"v":0},{"m":19,"h":72,"v":0},
{"m":19,"h":78,"v":0},{"m":19,"h":84,"v":1.1},{"m":19,"h":90,"v":3.6},{"m":19,"h":96,"v":0.3},{"m":19,"h":102,"v":0},{"m":19,"h":108,"v":0},{"m":19,"h":114,"v":0},{"m":19,"h":120,"v":0},{"m":19,"h":126,"v":0},{"m":19,"h":132,"v":0},
{"m":19,"h":138,"v":0},{"m":19,"h":144,"v":0},{"m":19,"h":150,"v":0},{"m":19,"h":156,"v":0},{"m":19,"h":162,"v":0},{"m":19,"h":168,"v":0.3},{"m":19,"h":174,"v":0},{"m":19,"h":180,"v":0},{"m":19,"h":186,"v":0},{"m":19,"h":192,"v":0},
{"m":19,"h":198,"v":0},{"m":19,"h":204,"v":0},{"m":19,"h":210,"v":0},{"m":19,"h":216,"v":0},{"m":19,"h":222,"v":0},{"m":19,"h":228,"v":0},{"m":19,"h":234,"v":0},{"m":19,"h":240,"v":0},{"m":19,"h":246,"v":0},{"m":19,"h":252,"v":0},
{"m":19,"h":258,"v":0},{"m":19,"h":264,"v":0},{"m":19,"h":270,"v":0},{"m":19,"h":276,"v":0},{"m":19,"h":282,"v":0},{"m":19,"h":288,"v":0},{"m":19,"h":294,"v":0},{"m":19,"h":300,"v":0},{"m":19,"h":306,"v":0},{"m":19,"h":312,"v":0},
{"m":19,"h":318,"v":0},{"m":19,"h":324,"v":0},{"m":19,"h":330,"v":0},{"m":19,"h":336,"v":0},{"m":19,"h":342,"v":0},{"m":19,"h":348,"v":0},{"m":19,"h":354,"v":0},{"m":19,"h":360,"v":0},{"m":19,"h":366,"v":0},{"m":19,"h":372,"v":0},
{"m":20,"h":18,"v":0},{"m":20,"h":24,"v":0.1},{"m":20,"h":30,"v":0},{"m":20,"h":36,"v":6.9},{"m":20,"h":42,"v":6.1},{"m":20,"h":48,"v":0.2},{"m":20,"h":54,"v":0},{"m":20,"h":60,"v":0.3},{"m":20,"h":66,"v":1.9},{"m":20,"h":72,"v":0.5},
{"m":20,"h":78,"v":0.2},{"m":20,"h":84,"v":2.3},{"m":20,"h":90,"v":2.9},{"m":20,"h":96,"v":0.2},{"m":20,"h":102,"v":0},{"m":20,"h":108,"v":0},{"m":20,"h":114,"v":0},{"m":20,"h":120,"v":0},{"m":20,"h":126,"v":0},{"m":20,"h":132,"v":0},
{"m":20,"h":138,"v":0},{"m":20,"h":144,"v":0},{"m":20,"h":150,"v":0},{"m":20,"h":156,"v":0},{"m":20,"h":162,"v":0},{"m":20,"h":168,"v":0},{"m":20,"h":174,"v":0},{"m":20,"h":180,"v":0},{"m":20,"h":186,"v":0},{"m":20,"h":192,"v":0},
{"m":20,"h":198,"v":0},{"m":20,"h":204,"v":0},{"m":20,"h":210,"v":0},{"m":20,"h":216,"v":0},{"m":20,"h":222,"v":0},{"m":20,"h":228,"v":0},{"m":20,"h":234,"v":0},{"m":20,"h":240,"v":0},{"m":20,"h":246,"v":0},{"m":20,"h":252,"v":0},
{"m":20,"h":258,"v":0},{"m":20,"h":264,"v":0},{"m":20,"h":270,"v":0},{"m":20,"h":276,"v":0},{"m":20,"h":282,"v":0},{"m":20,"h":288,"v":0},{"m":20,"h":294,"v":0},{"m":20,"h":300,"v":0},{"m":20,"h":306,"v":0},{"m":20,"h":312,"v":0},
{"m":20,"h":318,"v":0},{"m":20,"h":324,"v":0},{"m":20,"h":330,"v":0},{"m":20,"h":336,"v":0},{"m":20,"h":342,"v":0},{"m":20,"h":348,"v":0},{"m":20,"h":354,"v":0},{"m":20,"h":360,"v":0},{"m":20,"h":366,"v":0},{"m":20,"h":372,"v":0},
{"m":21,"h":18,"v":0.2},{"m":21,"h":24,"v":0.4},{"m":21,"h":30,"v":0},{"m":21,"h":36,"v":5.9},{"m":21,"h":42,"v":4.8},{"m":21,"h":48,"v":0.5},{"m":21,"h":54,"v":0},{"m":21,"h":60,"v":0},{"m":21,"h":66,"v":0.5},{"m":21,"h":72,"v":0.2},
{"m":21,"h":78,"v":0},{"m":21,"h":84,"v":3.2},{"m":21,"h":90,"v":2.5},{"m":21,"h":96,"v":0.4},{"m":21,"h":102,"v":0},{"m":21,"h":108,"v":0},{"m":21,"h":114,"v":0},{"m":21,"h":120,"v":0},{"m":21,"h":126,"v":0},{"m":21,"h":132,"v":0},
{"m":21,"h":138,"v":0},{"m":21,"h":144,"v":0},{"m":21,"h":150,"v":0.5},{"m":21,"h":156,"v":0.2},{"m":21,"h":162,"v":0},{"m":21,"h":168,"v":0},{"m":21,"h":174,"v":0},{"m":21,"h":180,"v":0.3},{"m":21,"h":186,"v":2.4},{"m":21,"h":192,"v":0.8},
{"m":21,"h":198,"v":0},{"m":21,"h":204,"v":0},{"m":21,"h":210,"v":0},{"m":21,"h":216,"v":0},{"m":21,"h":222,"v":0},{"m":21,"h":228,"v":0},{"m":21,"h":234,"v":0},{"m":21,"h":240,"v":0},{"m":21,"h":246,"v":0},{"m":21,"h":252,"v":0},
{"m":21,"h":258,"v":0},{"m":21,"h":264,"v":0},{"m":21,"h":270,"v":0},{"m":21,"h":276,"v":0},{"m":21,"h":282,"v":0},{"m":21,"h":288,"v":0},{"m":21,"h":294,"v":1.3},{"m":21,"h":300,"v":2.6},{"m":21,"h":306,"v":0.4},{"m":21,"h":312,"v":0},
{"m":21,"h":318,"v":0},{"m":21,"h":324,"v":0},{"m":21,"h":330,"v":2.1},{"m":21,"h":336,"v":0.5},{"m":21,"h":342,"v":0},{"m":21,"h":348,"v":0},{"m":21,"h":354,"v":0},{"m":21,"h":360,"v":0},{"m":21,"h":366,"v":0},{"m":21,"h":372,"v":0},
{"m":22,"h":18,"v":0},{"m":22,"h":24,"v":0},{"m":22,"h":30,"v":0},{"m":22,"h":36,"v":6.2},{"m":22,"h":42,"v":5.1},{"m":22,"h":48,"v":0.4},{"m":22,"h":54,"v":0},{"m":22,"h":60,"v":0},{"m":22,"h":66,"v":0},{"m":22,"h":72,"v":0.3},
{"m":22,"h":78,"v":0.8},{"m":22,"h":84,"v":1.9},{"m":22,"h":90,"v":0.7},{"m":22,"h":96,"v":0.2},{"m":22,"h":102,"v":0},{"m":22,"h":108,"v":0},{"m":22,"h":114,"v":0},{"m":22,"h":120,"v":0.2},{"m":22,"h":126,"v":0.8},{"m":22,"h":132,"v":0},
{"m":22,"h":138,"v":0},{"m":22,"h":144,"v":0},{"m":22,"h":150,"v":0},{"m":22,"h":156,"v":0},{"m":22,"h":162,"v":0},{"m":22,"h":168,"v":0},{"m":22,"h":174,"v":0},{"m":22,"h":180,"v":0},{"m":22,"h":186,"v":0},{"m":22,"h":192,"v":0},
{"m":22,"h":198,"v":0},{"m":22,"h":204,"v":0.5},{"m":22,"h":210,"v":3.1},{"m":22,"h":216,"v":0.2},{"m":22,"h":222,"v":0},{"m":22,"h":228,"v":0},{"m":22,"h":234,"v":0},{"m":22,"h":240,"v":0},{"m":22,"h":246,"v":0},{"m":22,"h":252,"v":0},
{"m":22,"h":258,"v":0},{"m":22,"h":264,"v":0},{"m":22,"h":270,"v":0},{"m":22,"h":276,"v":0},{"m":22,"h":282,"v":0},{"m":22,"h":288,"v":0},{"m":22,"h":294,"v":0},{"m":22,"h":300,"v":0},{"m":22,"h":306,"v":0},{"m":22,"h":312,"v":0},
{"m":22,"h":318,"v":0},{"m":22,"h":324,"v":0},{"m":22,"h":330,"v":0},{"m":22,"h":336,"v":0},{"m":22,"h":342,"v":4.2},{"m":22,"h":348,"v":0.4},{"m":22,"h":354,"v":0},{"m":22,"h":360,"v":0},{"m":22,"h":366,"v":0},{"m":22,"h":372,"v":0},
{"m":23,"h":18,"v":0.3},{"m":23,"h":24,"v":0},{"m":23,"h":30,"v":0},{"m":23,"h":36,"v":3.6},{"m":23,"h":42,"v":2.9},{"m":23,"h":48,"v":0.1},{"m":23,"h":54,"v":0},{"m":23,"h":60,"v":0},{"m":23,"h":66,"v":0},{"m":23,"h":72,"v":0},
{"m":23,"h":78,"v":0},{"m":23,"h":84,"v":0.5},{"m":23,"h":90,"v":1.2},{"m":23,"h":96,"v":0.1},{"m":23,"h":102,"v":0},{"m":23,"h":108,"v":0},{"m":23,"h":114,"v":0},{"m":23,"h":120,"v":0},{"m":23,"h":126,"v":0},{"m":23,"h":132,"v":0},
{"m":23,"h":138,"v":0},{"m":23,"h":144,"v":0},{"m":23,"h":150,"v":0},{"m":23,"h":156,"v":0},{"m":23,"h":162,"v":0},{"m":23,"h":168,"v":0},{"m":23,"h":174,"v":0},{"m":23,"h":180,"v":0},{"m":23,"h":186,"v":0},{"m":23,"h":192,"v":0},
{"m":23,"h":198,"v":0},{"m":23,"h":204,"v":0},{"m":23,"h":210,"v":0},{"m":23,"h":216,"v":0},{"m":23,"h":222,"v":0},{"m":23,"h":228,"v":0},{"m":23,"h":234,"v":0},{"m":23,"h":240,"v":0},{"m":23,"h":246,"v":0},{"m":23,"h":252,"v":0.2},
{"m":23,"h":258,"v":1.5},{"m":23,"h":264,"v":0.3},{"m":23,"h":270,"v":0},{"m":23,"h":276,"v":0},{"m":23,"h":282,"v":0},{"m":23,"h":288,"v":0},{"m":23,"h":294,"v":0},{"m":23,"h":300,"v":0},{"m":23,"h":306,"v":0},{"m":23,"h":312,"v":0},
{"m":23,"h":318,"v":0},{"m":23,"h":324,"v":0},{"m":23,"h":330,"v":0},{"m":23,"h":336,"v":0},{"m":23,"h":342,"v":0},{"m":23,"h":348,"v":0},{"m":23,"h":354,"v":0},{"m":23,"h":360,"v":0},{"m":23,"h":366,"v":0},{"m":23,"h":372,"v":0},
{"m":24,"h":18,"v":0},{"m":24,"h":24,"v":0.2},{"m":24,"h":30,"v":0},{"m":24,"h":36,"v":5.0},{"m":24,"h":42,"v":6.3},{"m":24,"h":48,"v":0.4},{"m":24,"h":54,"v":0},{"m":24,"h":60,"v":0.6},{"m":24,"h":66,"v":3.0},{"m":24,"h":72,"v":0.4},
{"m":24,"h":78,"v":0},{"m":24,"h":84,"v":5.6},{"m":24,"h":90,"v":3.9},{"m":24,"h":96,"v":0.3},{"m":24,"h":102,"v":0},{"m":24,"h":108,"v":0},{"m":24,"h":114,"v":0},{"m":24,"h":120,"v":0},{"m":24,"h":126,"v":0},{"m":24,"h":132,"v":0},
{"m":24,"h":138,"v":0},{"m":24,"h":144,"v":0},{"m":24,"h":150,"v":0},{"m":24,"h":156,"v":0},{"m":24,"h":162,"v":0},{"m":24,"h":168,"v":0},{"m":24,"h":174,"v":0},{"m":24,"h":180,"v":0},{"m":24,"h":186,"v":0},{"m":24,"h":192,"v":0},
{"m":24,"h":198,"v":0},{"m":24,"h":204,"v":0},{"m":24,"h":210,"v":0},{"m":24,"h":216,"v":0},{"m":24,"h":222,"v":0},{"m":24,"h":228,"v":0},{"m":24,"h":234,"v":0},{"m":24,"h":240,"v":0},{"m":24,"h":246,"v":0},{"m":24,"h":252,"v":0},
{"m":24,"h":258,"v":0},{"m":24,"h":264,"v":0},{"m":24,"h":270,"v":0},{"m":24,"h":276,"v":0},{"m":24,"h":282,"v":0},{"m":24,"h":288,"v":0},{"m":24,"h":294,"v":0},{"m":24,"h":300,"v":0},{"m":24,"h":306,"v":0},{"m":24,"h":312,"v":0},
{"m":24,"h":318,"v":0},{"m":24,"h":324,"v":0},{"m":24,"h":330,"v":0},{"m":24,"h":336,"v":0},{"m":24,"h":342,"v":0},{"m":24,"h":348,"v":0},{"m":24,"h":354,"v":0},{"m":24,"h":360,"v":0},{"m":24,"h":366,"v":0},{"m":24,"h":372,"v":0}
]},
"encoding":{
"x":{"field":"h","type":"quantitative","scale":{"domain":[18,372],"nice":false,"zero":false},
"axis":{"title":null,"values":[18,24,30,36,42,48,54,60,66,72,78,84,90,96,102,108,114,120,126,132,138,144,150,156,162,168,174,180,186,192,198,204,210,216,222,228,234,240,246,252,258,264,270,276,282,288,294,300,306,312,318,324,330,336,342,348,354,360,366,372],
"grid":true,"gridColor":{"condition":{"test":"datum.value % 24 === 0","value":"#5a5a5a"},"value":"#dcdcdc"},"gridOpacity":{"condition":{"test":"datum.value >= 372","value":0},"value":1},
"labelExpr":"(datum.value % 24 === 12 && datum.value < 372) ? ['Vr','Za','Zo','Ma','Di','Wo','Do'][floor(datum.value/24) % 7] + ' ' + (13 + floor(datum.value/24)) : ''",
"labelOverlap":false,"labelBound":false,"labelFlush":false,"labelFontSize":11,"labelColor":"#222","labelFont":"Liberation Sans","labelPadding":2,"tickSize":4,"tickColor":"#000","domainColor":"#000"}},
"y":{"field":"v","type":"quantitative","scale":{"domain":[0,16],"nice":false,"zero":true},
"axis":{"title":null,"values":[0,2,4,6,8,10,12,14,16],"grid":true,"gridColor":"#dcdcdc","gridOpacity":{"condition":{"test":"datum.value >= 16","value":0},"value":1},"labelFontSize":12.5,"labelColor":"#222","labelFont":"Liberation Sans","labelPadding":3,"tickSize":3,"tickColor":"#000","domainColor":"#000"}}
},
"layer":[
{"data":{"name":"det"},"transform":[{"filter":"datum.s === 'c'"}],"mark":{"type":"line","strokeWidth":3.5},
"encoding":{
"color":{"datum":"Controle","type":"nominal","scale":{"domain":["Oper.","Controle","Leden","gemiddelde","mediaan (middelste waarde)"],"range":["#d63030","#3232cc","#58aa34","#111111","#dd00dd"]},
"legend":{"orient":"none","legendX":-3,"legendY":-15,"direction":"horizontal","title":null,"symbolType":"stroke","symbolSize":225,"symbolStrokeWidth":3,"symbolOpacity":1,"labelFontSize":10.5,"labelFont":"Liberation Sans","labelColor":"#111","labelOffset":4,"labelLimit":300,"columnPadding":17}},
"strokeDash":{"datum":"Controle","type":"nominal","scale":{"domain":["Oper.","Controle","Leden","gemiddelde","mediaan (middelste waarde)"],"range":[[1,0],[1,0],[1,0],[3,2],[9,3,2,3]]}}}},
{"data":{"name":"ens"},"mark":{"type":"line","strokeWidth":1,"opacity":0.33},
"encoding":{"detail":{"field":"m","type":"nominal"},"color":{"datum":"Leden","type":"nominal"},"strokeDash":{"datum":"Leden","type":"nominal"}}},
{"data":{"name":"det"},"transform":[{"filter":"datum.s === 'g'"}],"mark":{"type":"line","strokeWidth":3},
"encoding":{"color":{"datum":"gemiddelde","type":"nominal"},"strokeDash":{"datum":"gemiddelde","type":"nominal"}}},
{"data":{"name":"det"},"transform":[{"filter":"datum.s === 'd'"}],"mark":{"type":"line","strokeWidth":2.5},
"encoding":{"color":{"datum":"mediaan (middelste waarde)","type":"nominal"},"strokeDash":{"datum":"mediaan (middelste waarde)","type":"nominal"}}},
{"data":{"name":"det"},"transform":[{"filter":"datum.s === 'o'"}],"mark":{"type":"line","strokeWidth":3.5},
"encoding":{"color":{"datum":"Oper.","type":"nominal"},"strokeDash":{"datum":"Oper.","type":"nominal"}}}
]
}
